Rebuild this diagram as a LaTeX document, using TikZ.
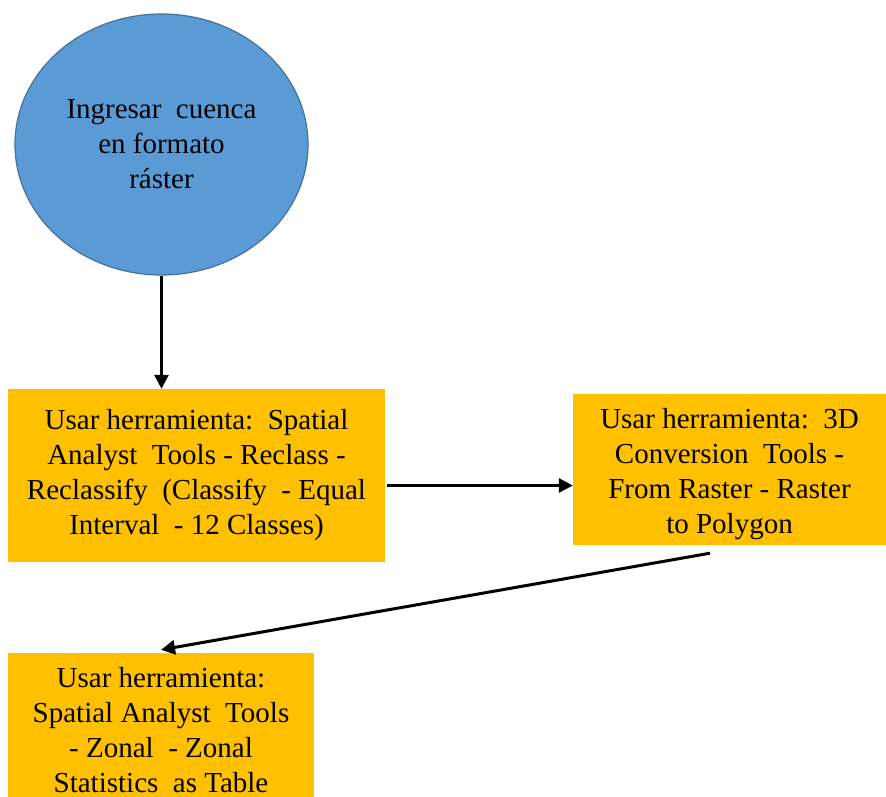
\documentclass[tikz,border=0pt]{standalone}
\usepackage{fontspec}
\setmainfont{Liberation Serif}
\usetikzlibrary{arrows.meta,shapes.geometric}

\definecolor{startblue}{HTML}{5B9BD5}
\definecolor{startedge}{HTML}{41719C}
\definecolor{toolbox}{HTML}{FFC000}

\tikzset{
  txt/.style={font=\fontsize{29}{35}\selectfont, align=center, text=black},
  startnode/.style={txt, ellipse, fill=startblue, draw=startedge, line width=1.2pt, inner sep=0pt},
  toolnode/.style={txt, rectangle, fill=toolbox, inner sep=0pt},
  flow/.style={line width=3pt, -{Triangle[length=14pt,width=14pt]}}
}

\begin{document}
\begin{tikzpicture}[x=1pt,y=-1pt]
  \useasboundingbox[fill=white] (0,0) rectangle (886,797);

  % start: raster basin input
  \node[startnode, minimum width=293pt, minimum height=261pt] (e) at (161.5,144.5)
    {\parbox{190pt}{\centering Ingresar\ \ cuenca\\en formato\\ráster}};

  % processing steps
  \node[toolnode, minimum width=377pt, minimum height=173pt] (b1) at (196.5,475.5)
    {\parbox{377pt}{\centering Usar herramienta:\ \ Spatial\\Analyst\ \ Tools - Reclass -\\Reclassify\ \ (Classify\ \ - Equal\\Interval\ \ - 12 Classes)}};

  \node[toolnode, minimum width=313pt, minimum height=151pt] (b2) at (729.5,469.5)
    {\parbox{313pt}{\vspace*{10pt}\centering Usar herramienta:\ \ 3D\\Conversion\ \ Tools -\\From Raster - Raster\\to Polygon}};

  \begin{scope}
    \clip (0,0) rectangle (886,797);
    \node[toolnode, minimum width=306pt, minimum height=150pt] (b3) at (161,728)
      {\parbox{306pt}{\vspace*{4pt}\centering Usar herramienta:\\Spatial\ Analyst\ \ Tools\\- Zonal\ \ - Zonal\\Statistics\ \ as Table}};
  \end{scope}

  % connectors
  \draw[flow] (e.south) -- (e.south |- b1.north);
  \draw[flow] ([shift={(2pt,-10pt)}]b1.east) -- ([yshift=-10pt]b1.east -| b2.west);
  \draw[flow] ([shift={(-19.5pt,-8pt)}]b2.south) -- ([yshift=3pt]b3.north);
\end{tikzpicture}
\end{document}
